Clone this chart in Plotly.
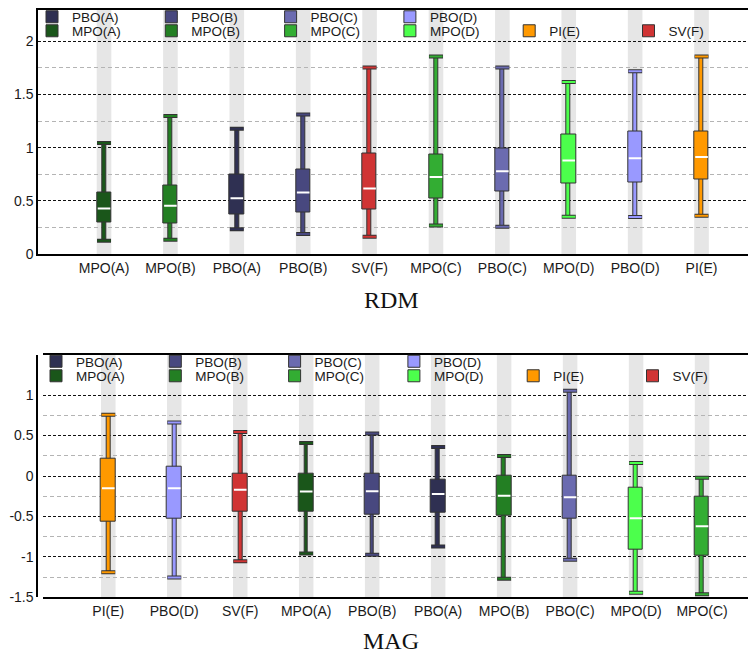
import plotly.graph_objects as go

# ---------------- data ----------------
rdm_categories = ['MPO(A)', 'MPO(B)', 'PBO(A)', 'PBO(B)', 'SV(F)', 'MPO(C)', 'PBO(C)', 'MPO(D)', 'PBO(D)', 'PI(E)']
rdm_lower = [0.125, 0.134, 0.232, 0.188, 0.163, 0.269, 0.256, 0.350, 0.347, 0.360]
rdm_q1 = [0.294, 0.288, 0.369, 0.391, 0.422, 0.522, 0.585, 0.660, 0.669, 0.704]
rdm_median = [0.429, 0.453, 0.525, 0.579, 0.616, 0.725, 0.779, 0.879, 0.901, 0.913]
rdm_q3 = [0.579, 0.641, 0.750, 0.791, 0.941, 0.938, 0.997, 1.123, 1.157, 1.154]
rdm_upper = [1.044, 1.297, 1.179, 1.313, 1.754, 1.857, 1.754, 1.617, 1.720, 1.857]

mag_categories = ['PI(E)', 'PBO(D)', 'SV(F)', 'MPO(A)', 'PBO(B)', 'PBO(A)', 'MPO(B)', 'PBO(C)', 'MPO(D)', 'MPO(C)']
mag_lower = [-1.189, -1.255, -1.053, -0.959, -0.975, -0.872, -1.272, -1.037, -1.444, -1.461]
mag_q1 = [-0.560, -0.522, -0.440, -0.444, -0.473, -0.449, -0.494, -0.527, -0.914, -0.988]
mag_median = [-0.152, -0.152, -0.169, -0.193, -0.189, -0.222, -0.243, -0.263, -0.523, -0.621]
mag_q3 = [0.214, 0.115, 0.029, 0.029, 0.029, -0.040, 0.000, 0.008, -0.144, -0.251]
mag_upper = [0.757, 0.662, 0.543, 0.407, 0.527, 0.358, 0.247, 1.053, 0.160, -0.021]

legend_row1 = ['PBO(A)', 'PBO(B)', 'PBO(C)', 'PBO(D)']
legend_row2 = ['MPO(A)', 'MPO(B)', 'MPO(C)', 'MPO(D)', 'PI(E)', 'SV(F)']

rdm_yticks = [0, 0.5, 1, 1.5, 2]
rdm_yticktext = ['0', '0.5', '1', '1.5', '2']
rdm_minor = [0.25, 0.75, 1.25, 1.75]
mag_yticks = [-1.5, -1, -0.5, 0, 0.5, 1]
mag_yticktext = ['-1.5', '-1', '-0.5', '0', '0.5', '1']
mag_minor = [-1.25, -0.75, -0.25, 0.25, 0.75]

# ---------------- style ----------------
colors = {
    'PBO(A)': '#2f3052', 'PBO(B)': '#48487f', 'PBO(C)': '#6b6bb0', 'PBO(D)': '#9999ff',
    'MPO(A)': '#1a561a', 'MPO(B)': '#237f23', 'MPO(C)': '#33ad33', 'MPO(D)': '#4cff4c',
    'PI(E)': '#ff9900', 'SV(F)': '#d03434',
}
EDGE = '#333333'
FONT = 'Liberation Sans, Arial, Helvetica, sans-serif'
W, H = 756, 656

fig = go.Figure()

charts = [
    dict(cats=rdm_categories, lo=rdm_lower, q1=rdm_q1, med=rdm_median, q3=rdm_q3, hi=rdm_upper,
         xa='x', ya='y', legends=('legend', 'legend2')),
    dict(cats=mag_categories, lo=mag_lower, q1=mag_q1, med=mag_median, q3=mag_q3, hi=mag_upper,
         xa='x2', ya='y2', legends=('legend3', 'legend4')),
]

BOXW = 0.215
WHW = 0.06

for ch in charts:
    cats = ch['cats']
    cols = [colors[c] for c in cats]
    # whiskers
    fig.add_trace(go.Bar(
        x=cats, y=[h - l for h, l in zip(ch['hi'], ch['lo'])], base=ch['lo'], width=WHW,
        marker=dict(color=cols, line=dict(color=EDGE, width=1)),
        showlegend=False, hoverinfo='skip', xaxis=ch['xa'], yaxis=ch['ya']))
for ch in charts:
    cats = ch['cats']
    # boxes (one trace per series for legend)
    for i, c in enumerate(cats):
        if c in legend_row1:
            lg = ch['legends'][0]
            rank = legend_row1.index(c)
        else:
            lg = ch['legends'][1]
            rank = legend_row2.index(c)
        fig.add_trace(go.Bar(
            x=[c], y=[ch['q3'][i] - ch['q1'][i]], base=[ch['q1'][i]], width=BOXW, name=c,
            marker=dict(color=colors[c], line=dict(color=EDGE, width=1)),
            legend=lg, legendrank=rank + 1, showlegend=True,
            xaxis=ch['xa'], yaxis=ch['ya']))
for ch in charts:
    cats = ch['cats']
    cols = [colors[c] for c in cats]
    # caps: dark outline then coloured core
    fig.add_trace(go.Scatter(
        x=cats + cats, y=ch['hi'] + ch['lo'], mode='markers',
        marker=dict(symbol='line-ew', size=10, color=EDGE, line=dict(width=4, color=EDGE)),
        showlegend=False, hoverinfo='skip', xaxis=ch['xa'], yaxis=ch['ya']))
    fig.add_trace(go.Scatter(
        x=cats + cats, y=ch['hi'] + ch['lo'], mode='markers',
        marker=dict(symbol='line-ew', size=9.4, color=cols + cols, line=dict(width=2, color=cols + cols)),
        showlegend=False, hoverinfo='skip', xaxis=ch['xa'], yaxis=ch['ya']))
    # medians
    fig.add_trace(go.Scatter(
        x=cats, y=ch['med'], mode='markers',
        marker=dict(symbol='line-ew', size=9, color='white', line=dict(width=2, color='white')),
        showlegend=False, hoverinfo='skip', xaxis=ch['xa'], yaxis=ch['ya']))

# grey background bands behind every category
shapes = []
for ch in charts:
    for i, _ in enumerate(ch['cats']):
        shapes.append(dict(type='rect', xref=ch['xa'], yref=ch['ya'] + ' domain',
                           x0=i - 0.11, x1=i + 0.11, y0=0, y1=1,
                           fillcolor='#e6e6e6', line=dict(width=0), layer='below'))

def yaxis_cfg(domain, rng, tickvals, ticktext, minor):
    return dict(domain=domain, range=rng, tickmode='array', tickvals=tickvals, ticktext=ticktext,
                showgrid=True, gridcolor='#111111', gridwidth=1, griddash='3px,2px',
                zeroline=False, showline=True, linecolor='#000000', linewidth=2,
                ticks='', tickfont=dict(family=FONT, size=14, color='#1a1a1a'),
                minor=dict(tickmode='array', tickvals=minor, showgrid=True, gridcolor='#b4b4b4',
                           gridwidth=1, griddash='4px,3px', ticks=''),
                automargin=False, fixedrange=True)

def xaxis_cfg(domain, rng, anchor):
    return dict(domain=domain, range=rng, type='category', anchor=anchor,
                showgrid=False, zeroline=False, showline=True, mirror=True,
                linecolor='#000000', linewidth=2, ticks='',
                tickfont=dict(family=FONT, size=14, color='#1a1a1a'),
                automargin=False, fixedrange=True)

def legend_cfg(xpix, ypix):
    return dict(orientation='h', x=xpix / W, y=1 - ypix / H, xanchor='left', yanchor='middle',
                xref='paper', yref='paper', entrywidth=74.3, entrywidthmode='pixels',
                bgcolor='rgba(0,0,0,0)', borderwidth=0, traceorder='normal',
                font=dict(family=FONT, size=13.5, color='#1a1a1a'), tracegroupgap=0,
                itemclick=False, itemdoubleclick=False)

fig.update_layout(
    width=W, height=H, margin=dict(l=0, r=0, t=0, b=0, autoexpand=False),
    paper_bgcolor='white', plot_bgcolor='white', barmode='overlay', bargap=0,
    xaxis=xaxis_cfg([30.3 / W, 1], [-0.99, 9.941], 'y'),
    yaxis=yaxis_cfg([1 - 246 / H, 1 - 1.5 / H], [0, 2.3], rdm_yticks, rdm_yticktext, rdm_minor),
    xaxis2=xaxis_cfg([34.7 / W, 1], [-0.994, 9.939], 'y2'),
    yaxis2=yaxis_cfg([1 - 589.3 / H, 1 - 346.7 / H], [-1.5, 1.5], mag_yticks, mag_yticktext, mag_minor),
    legend=legend_cfg(24, 9),
    legend2=legend_cfg(24, 23),
    legend3=legend_cfg(28, 353.5),
    legend4=legend_cfg(28, 368),
    shapes=shapes,
    annotations=[
        dict(text='RDM', x=383 / W, y=1 - 291.5 / H, xref='paper', yref='paper',
             showarrow=False, xanchor='center', yanchor='middle',
             font=dict(family='Liberation Serif, Times New Roman, serif', size=24, color='#111111')),
        dict(text='MAG', x=383 / W, y=1 - 633 / H, xref='paper', yref='paper',
             showarrow=False, xanchor='center', yanchor='middle',
             font=dict(family='Liberation Serif, Times New Roman, serif', size=24, color='#111111')),
    ],
    showlegend=True,
)

fig.write_html('out.html')
